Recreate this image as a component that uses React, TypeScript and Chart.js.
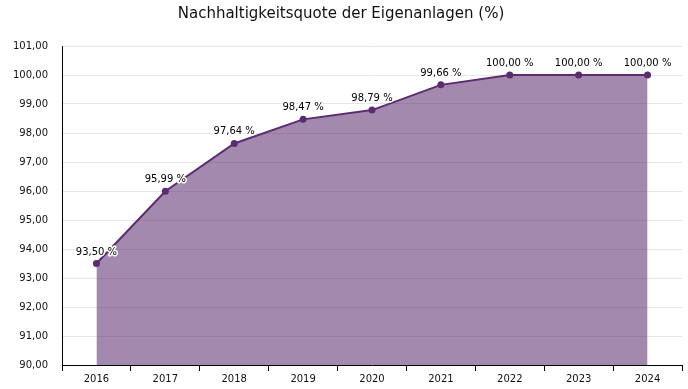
import React, { useEffect, useRef } from "react";
import { Chart, registerables } from "chart.js";

Chart.register(...registerables);

const TITLE = "Nachhaltigkeitsquote der Eigenanlagen (%)";
const YEARS = ["2016", "2017", "2018", "2019", "2020", "2021", "2022", "2023", "2024"];
const QUOTE = [93.5, 95.99, 97.64, 98.47, 98.79, 99.66, 100.0, 100.0, 100.0];
const Y_MIN = 90;
const Y_MAX = 101;
const Y_STEP = 1;

const fmt = (v: number) => v.toFixed(2).replace(".", ",");

const labelPlugin = {
  id: "pointLabels",
  afterDatasetsDraw(chart: any) {
    const ctx = chart.ctx;
    const meta = chart.getDatasetMeta(0);
    const data = chart.data.datasets[0].data as number[];
    ctx.save();
    ctx.font = "10px 'DejaVu Sans'";
    ctx.textAlign = "center";
    ctx.textBaseline = "alphabetic";
    ctx.lineJoin = "round";
    meta.data.forEach((pt: any, i: number) => {
      const txt = fmt(data[i]) + " %";
      const x = pt.x;
      const y = pt.y - 9;
      ctx.lineWidth = 3;
      ctx.strokeStyle = "#ffffff";
      ctx.strokeText(txt, x, y);
      ctx.fillStyle = "#000000";
      ctx.fillText(txt, x, y);
    });
    ctx.restore();
  },
};

export default function App() {
  const ref = useRef<HTMLCanvasElement | null>(null);

  useEffect(() => {
    document.body.style.margin = "0";
    if (!ref.current) return;
    const chart = new Chart(ref.current, {
      type: "line",
      data: {
        labels: YEARS,
        datasets: [
          {
            data: QUOTE,
            borderColor: "#5b2c6f",
            backgroundColor: "rgba(91,44,111,0.56)",
            borderWidth: 2,
            fill: "start",
            tension: 0,
            pointRadius: 3.5,
            pointBackgroundColor: "#5b2c6f",
            pointBorderColor: "#5b2c6f",
            pointBorderWidth: 0,
          },
        ],
      },
      options: {
        responsive: false,
        animation: false,
        maintainAspectRatio: false,
        layout: { padding: { left: 0, right: 6, top: 0, bottom: 0 } },
        plugins: {
          legend: { display: false },
          tooltip: { enabled: false },
          title: {
            display: true,
            text: TITLE,
            color: "#111111",
            font: { family: "'DejaVu Sans'", size: 15, weight: "normal" },
            padding: { top: 5, bottom: 23 },
          },
        },
        scales: {
          x: {
            type: "category",
            offset: true,
            grid: {
              display: true,
              drawOnChartArea: false,
              drawTicks: true,
              tickLength: 6,
              color: "#000000",
              offset: true,
            },
            border: { display: true, color: "#000000", width: 1 },
            ticks: {
              color: "#111111",
              font: { family: "'DejaVu Sans'", size: 10 },
              padding: 2,
              maxRotation: 0,
            },
            afterFit(scale: any) {
              scale.height = 24;
            },
          },
          y: {
            min: Y_MIN,
            max: Y_MAX,
            grid: { color: "#e6e6e6", drawTicks: false },
            border: { display: true, color: "#000000", width: 1 },
            ticks: {
              stepSize: Y_STEP,
              color: "#111111",
              font: { family: "'DejaVu Sans'", size: 10 },
              padding: 14,
              callback: (v: any) => fmt(Number(v)),
            },
            afterFit(scale: any) {
              scale.width = 62;
            },
          },
        },
      },
      plugins: [labelPlugin],
    } as any);
    return () => chart.destroy();
  }, []);

  return (
    <div style={{ width: 688, height: 389 }}>
      <canvas ref={ref} width={688} height={389} style={{ display: "block" }} />
    </div>
  );
}
